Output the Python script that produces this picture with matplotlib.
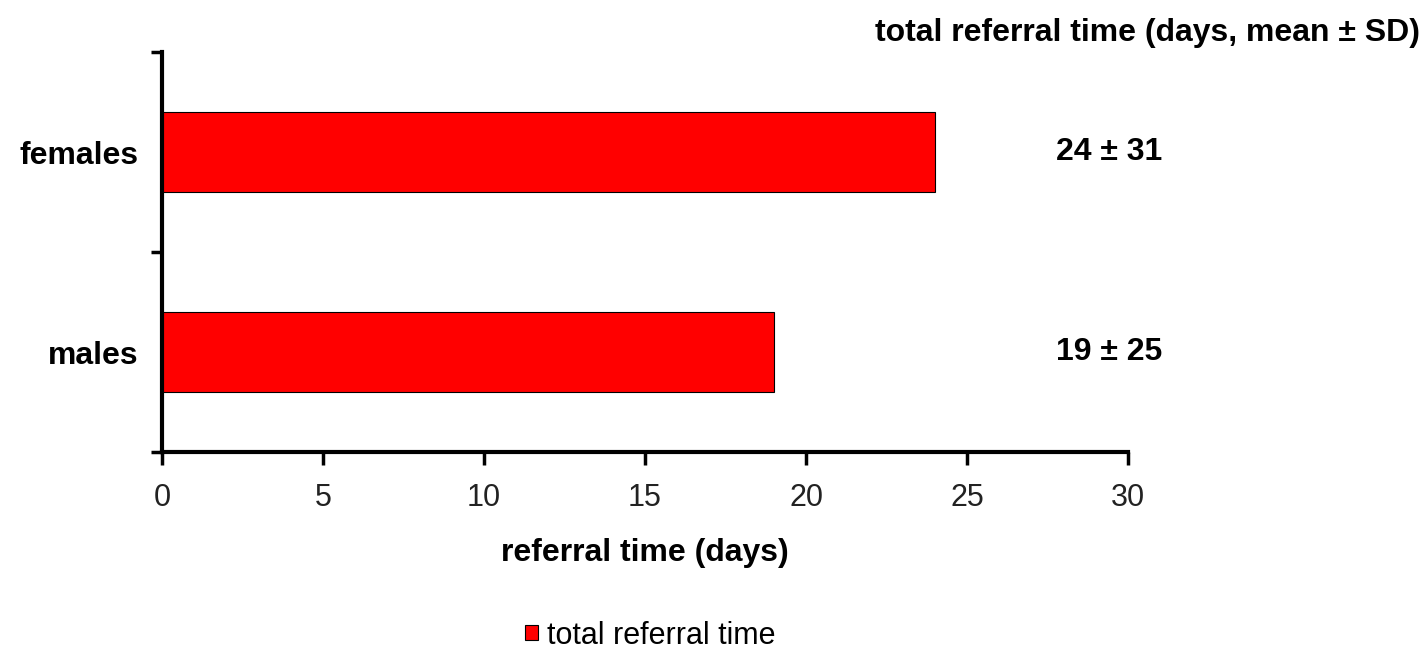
import numpy as np
import matplotlib
matplotlib.use("Agg")
from matplotlib import pyplot as plt
from matplotlib.patches import Patch

plt.rcParams['font.family'] = ['Liberation Sans', 'DejaVu Sans']

groups = ["males", "females"]
mean_days = [19, 24]
sd_days = [25, 31]
x_ticks = [0, 5, 10, 15, 20, 25, 30]

fig = plt.figure(figsize=(14.26, 6.5), dpi=100)
ax = fig.add_axes([0.1136, 0.3046, 0.6775, 0.6154])

ypos = np.arange(len(groups))
ax.barh(ypos, mean_days, height=0.4, color="#ff0000", edgecolor="#000000", linewidth=0.8)

ax.set_xlim(0, 30)
ax.set_ylim(-0.5, 1.5)
ax.set_xticks(x_ticks)
ax.set_xticklabels([str(t) for t in x_ticks], fontsize=22, color="#222222")
ax.set_yticks(ypos)
ax.set_yticklabels(groups, fontsize=23, fontweight="bold")
ax.set_yticks([-0.5, 0.5, 1.5], minor=True)
ax.tick_params(axis="y", which="major", length=0, pad=17)
ax.tick_params(axis="y", which="minor", length=8, width=2.5, direction="out")
ax.tick_params(axis="x", length=9, width=2.5, direction="out", pad=13)

for side in ["top", "right"]:
    ax.spines[side].set_visible(False)
for side in ["left", "bottom"]:
    ax.spines[side].set_linewidth(3)

ax.set_xlabel("referral time (days)", fontsize=23, fontweight="bold", labelpad=18)

# mean ± SD column to the right of the bars
for y, m, s in zip(ypos, mean_days, sd_days):
    ax.text(0.98, y, f"{m} ± {s}", transform=ax.get_yaxis_transform(),
            ha="center", va="center", fontsize=23, fontweight="bold")

fig.text(0.996, 0.95, "total referral time (days, mean ± SD)", ha="right", va="center",
         fontsize=23, fontweight="bold")

fig.legend(handles=[Patch(facecolor="#ff0000", edgecolor="#000000", linewidth=0.8)],
           labels=["total referral time"], loc="center", bbox_to_anchor=(0.456, 0.022),
           frameon=False, fontsize=22, handlelength=0.4, handleheight=0.4,
           handletextpad=0.3, borderpad=0)

fig.savefig("out.png", dpi=100)
